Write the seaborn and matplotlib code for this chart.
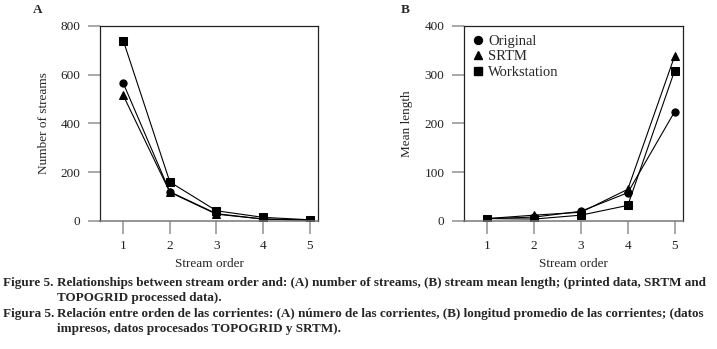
import pandas as pd
import matplotlib
matplotlib.use('Agg')
import matplotlib.pyplot as plt
from matplotlib.lines import Line2D
import seaborn as sns

# Data
orders = [1, 2, 3, 4, 5]
sources = ['Original', 'SRTM', 'Workstation']

count_original = [565, 120, 30, 8, 4]
count_srtm = [515, 118, 28, 8, 3]
count_workstation = [740, 160, 42, 15, 5]

length_original = [5, 8, 20, 58, 224]
length_srtm = [5, 12, 18, 65, 338]
length_workstation = [5, 4, 12, 32, 308]

count_ticks = [0, 200, 400, 600, 800]
length_ticks = [0, 100, 200, 300, 400]

caption_lines = [
    ("Figure 5.", "Relationships between stream order and: (A) number of streams, (B) stream mean length; (printed data, SRTM and"),
    ("", "TOPOGRID processed data)."),
    ("Figura 5.", "Relación entre orden de las corrientes: (A) número de las corrientes, (B) longitud promedio de las corrientes; (datos"),
    ("", "impresos, datos procesados TOPOGRID y SRTM)."),
]


def long_frame(a, b, c):
    rows = []
    for src, vals in zip(sources, [a, b, c]):
        for o, v in zip(orders, vals):
            rows.append({'order': o, 'value': v, 'source': src})
    return pd.DataFrame(rows)


df_count = long_frame(count_original, count_srtm, count_workstation)
df_length = long_frame(length_original, length_srtm, length_workstation)

sns.set_theme(style='white')
plt.rcParams['font.family'] = ['Liberation Serif', 'DejaVu Serif']

W, H = 717, 349
fig = plt.figure(figsize=(W / 100, H / 100), dpi=100)

markers = {'Original': 'o', 'SRTM': '^', 'Workstation': 's'}
sizes = {'Original': 5.2, 'SRTM': 5.8, 'Workstation': 5.4}


def panel(rect, data, ylim, yticks, ylabel, letter, letter_x):
    ax = fig.add_axes(rect)
    for src in sources:
        sub = data[data['source'] == src]
        sns.lineplot(data=sub, x='order', y='value', ax=ax, color='black',
                     marker=markers[src], markersize=sizes[src], linewidth=0.8,
                     markeredgecolor='black', markerfacecolor='black', legend=False)
    ax.set_xlim(0.5, 5.18)
    ax.set_ylim(*ylim)
    ax.set_xticks(orders)
    ax.set_yticks(yticks)
    ax.set_xlabel('Stream order', fontsize=9.5, labelpad=4)
    ax.set_ylabel(ylabel, fontsize=9.5, labelpad=8)
    ax.tick_params(axis='both', direction='out', length=9, width=1.2,
                   color='#9a9a9a', labelsize=9.5, pad=5, labelcolor='#222222',
                   bottom=True, left=True)
    for side in ['left', 'top', 'right']:
        ax.spines[side].set_color('#222222')
        ax.spines[side].set_linewidth(0.9)
    ax.spines['bottom'].set_color('#777777')
    ax.spines['bottom'].set_linewidth(1.1)
    fig.text(letter_x / W, 1 - 10 / H, letter, fontsize=9.5, fontweight='bold',
             ha='left', va='center')
    return ax


ax_a = panel([100 / W, 1 - 221 / H, 218 / W, 195 / H], df_count, (0, 800),
             count_ticks, 'Number of streams', 'A', 33)
ax_b = panel([464 / W, 1 - 221 / H, 219 / W, 195 / H], df_length, (0, 400),
             length_ticks, 'Mean length', 'B', 401)

handles = [Line2D([], [], color='black', marker=markers[s], linestyle='none',
                  markersize=sizes[s] + 0.5) for s in sources]
ax_b.legend(handles, sources, loc='upper left', frameon=False, fontsize=10.5,
            handletextpad=0.2, labelspacing=0.15, borderaxespad=0.2,
            handlelength=1.0, bbox_to_anchor=(-0.01, 1.0))

# Caption, fitted so the long lines end at the right margin
renderer = fig.canvas.get_renderer()
ys = [283, 298, 314, 329]
fs = 9.5
texts = []
for (head, body), y in zip(caption_lines, ys):
    if head:
        fig.text(3 / W, 1 - y / H, head, fontsize=fs, fontweight='bold',
                 ha='left', va='center')
    t = fig.text(57 / W, 1 - y / H, body, fontsize=fs, fontweight='bold',
                 ha='left', va='center')
    texts.append(t)

scales = []
for t in [texts[0], texts[2]]:
    w = t.get_window_extent(renderer).width
    scales.append((713 - 57) / w)
new_fs = fs * min(scales)
for t in fig.texts:
    if t.get_text() not in ('A', 'B'):
        t.set_fontsize(new_fs)

fig.savefig('out.png', dpi=100)
